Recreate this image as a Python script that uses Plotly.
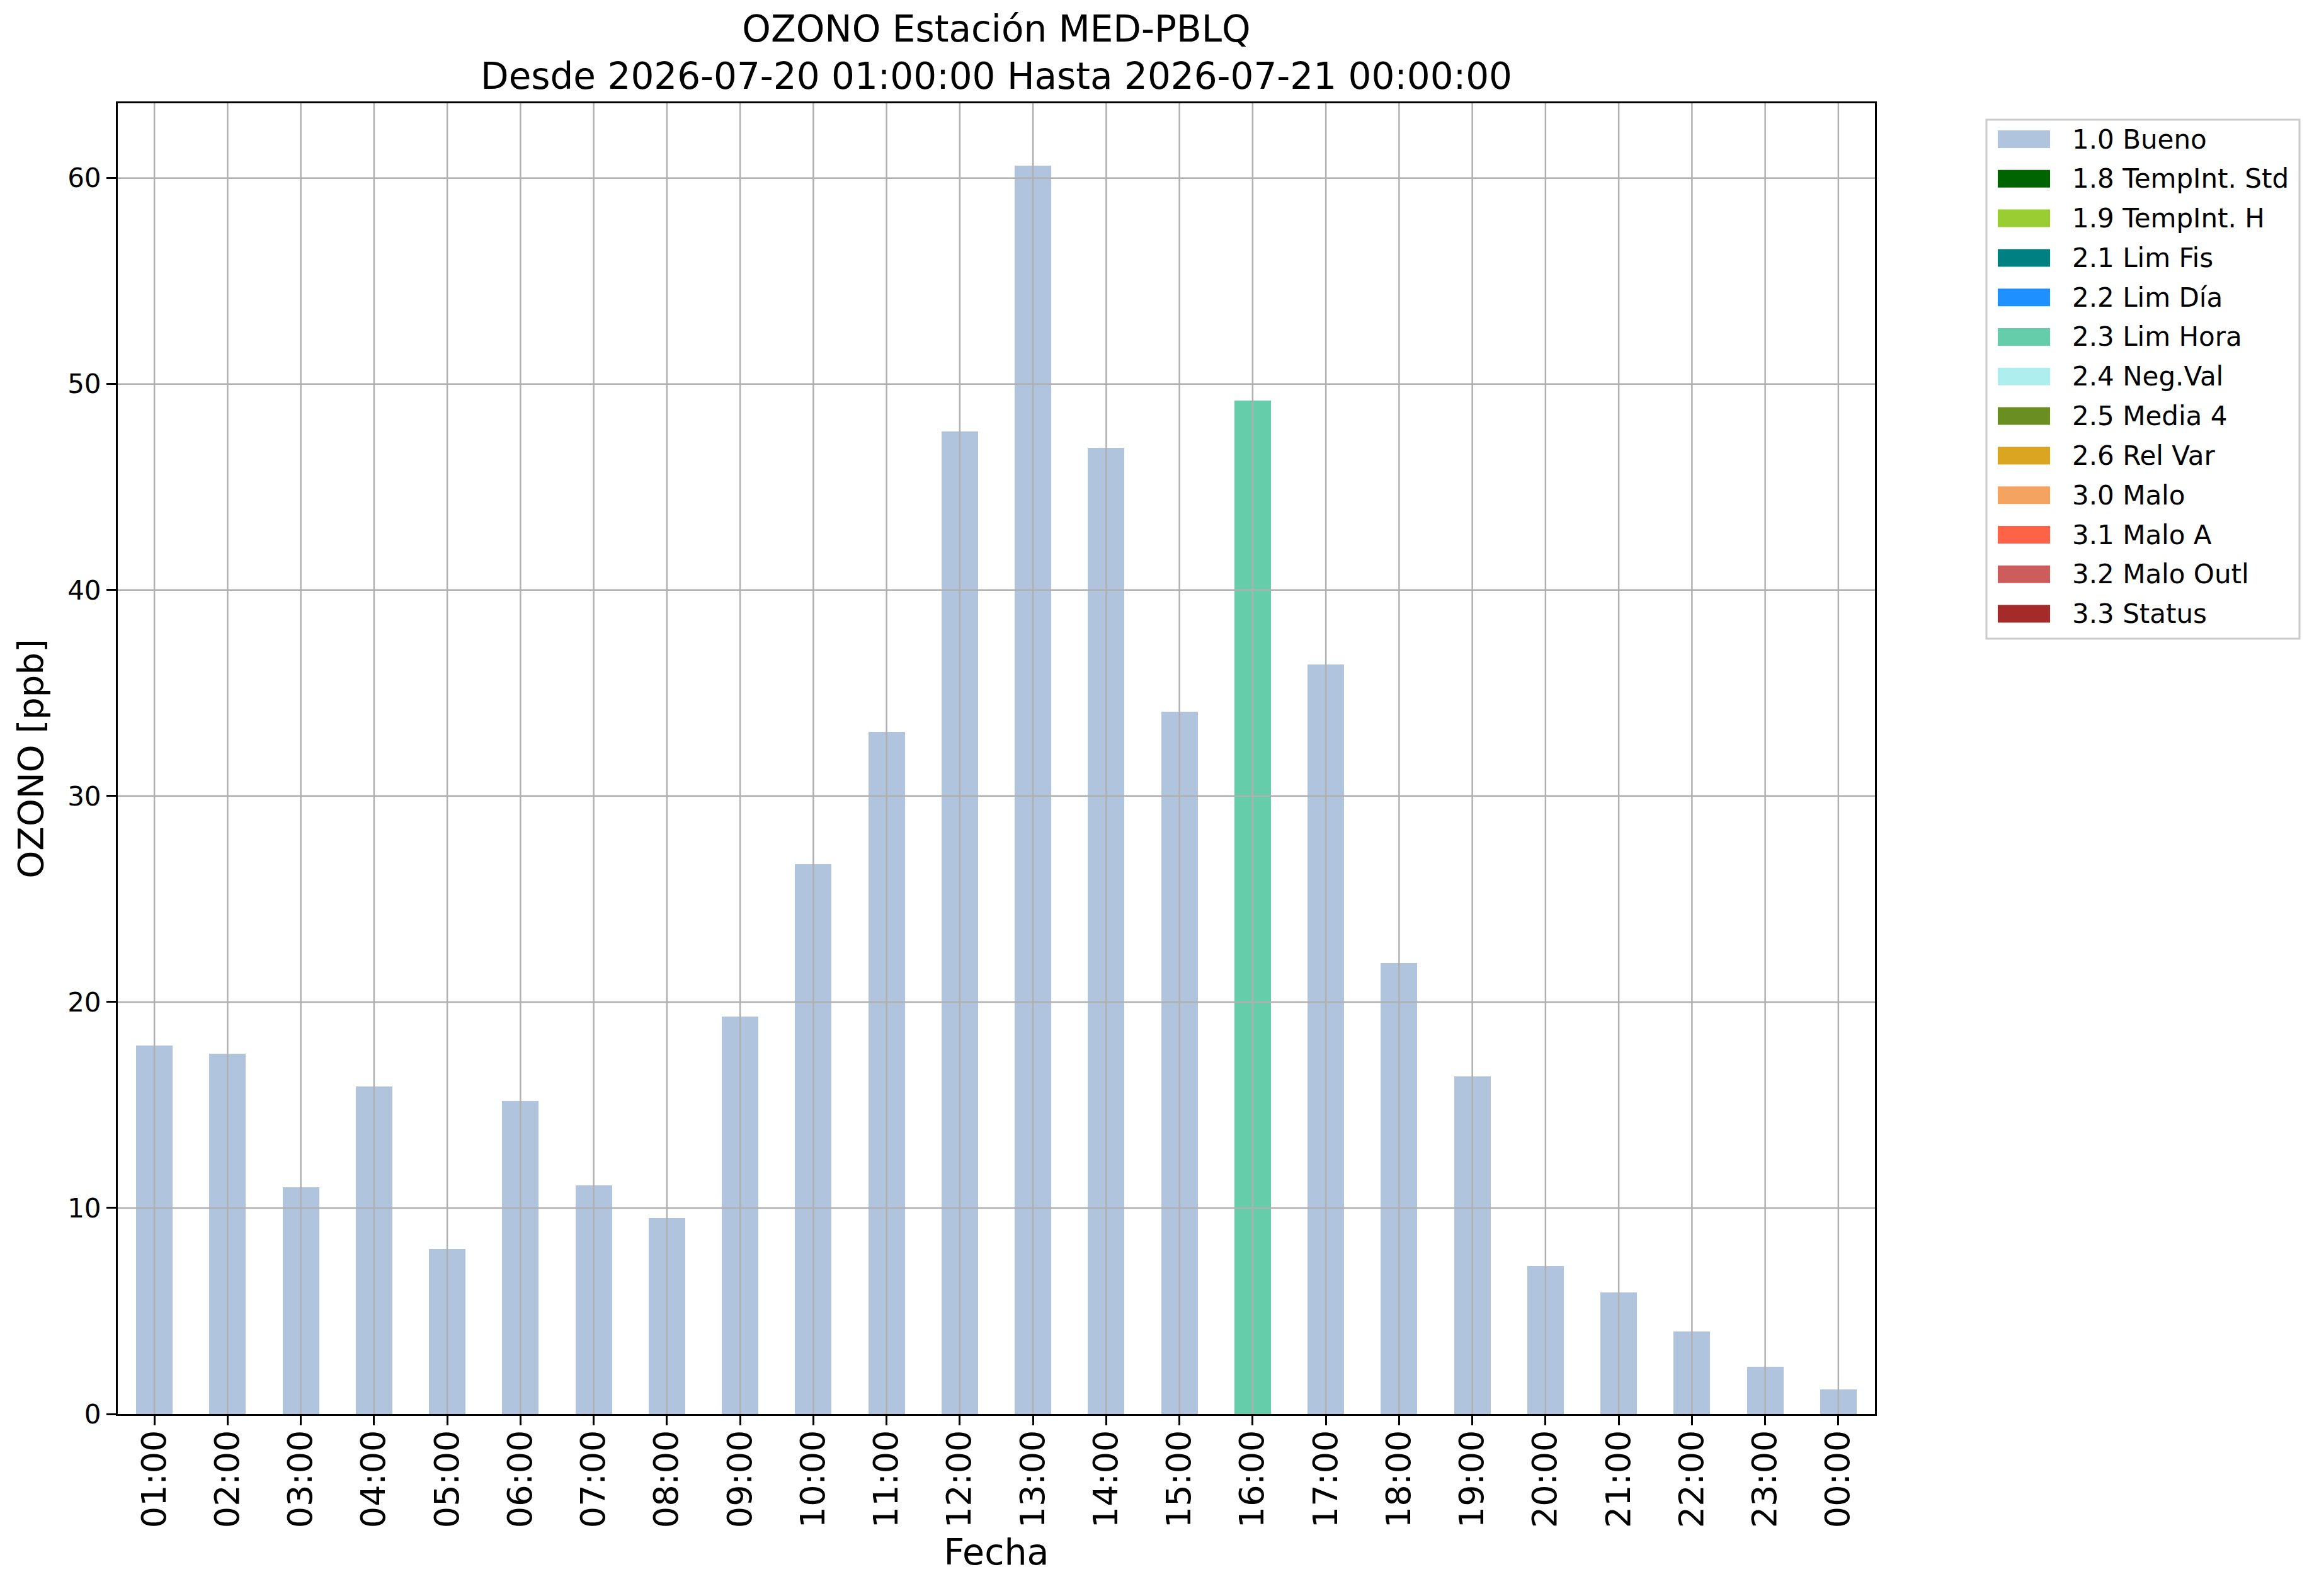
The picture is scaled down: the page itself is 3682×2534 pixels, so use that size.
import plotly.graph_objects as go

# hourly ozone, MED-PBLQ station
hours = ["01:00", "02:00", "03:00", "04:00", "05:00", "06:00", "07:00", "08:00",
         "09:00", "10:00", "11:00", "12:00", "13:00", "14:00", "15:00", "16:00",
         "17:00", "18:00", "19:00", "20:00", "21:00", "22:00", "23:00", "00:00"]
ozono = [17.9, 17.5, 11.0, 15.9, 8.0, 15.2, 11.1, 9.5,
         19.3, 26.7, 33.1, 47.7, 60.6, 46.9, 34.1, 49.2,
         36.4, 21.9, 16.4, 7.2, 5.9, 4.0, 2.3, 1.2]
flag = [1.0, 1.0, 1.0, 1.0, 1.0, 1.0, 1.0, 1.0,
        1.0, 1.0, 1.0, 1.0, 1.0, 1.0, 1.0, 2.3,
        1.0, 1.0, 1.0, 1.0, 1.0, 1.0, 1.0, 1.0]

flag_codes = [1.0, 1.8, 1.9, 2.1, 2.2, 2.3, 2.4, 2.5, 2.6, 3.0, 3.1, 3.2, 3.3]
flag_labels = ["1.0 Bueno", "1.8 TempInt. Std", "1.9 TempInt. H", "2.1 Lim Fis",
               "2.2 Lim Día", "2.3 Lim Hora", "2.4 Neg.Val", "2.5 Media 4",
               "2.6 Rel Var", "3.0 Malo", "3.1 Malo A", "3.2 Malo Outl", "3.3 Status"]
y_ticks = [0, 10, 20, 30, 40, 50, 60]

colores = ["#B0C4DE", "#006400", "#9ACD32", "#008080", "#1E90FF", "#66CDAA", "#AFEEEE",
           "#6B8E23", "#DAA520", "#F4A460", "#FF6347", "#CD5C5C", "#A52A2A"]

# page size and plot area, in page pixels
W, H = 3682, 2534
L, R, T, B = 187, 705, 164, 289
PAD = 8  # default body margin of the html page
FONT = "DejaVu Sans"


def paper_x(px):
    return (px - L) / (W - L - R)


def paper_y(py):
    return (H - B - py) / (H - T - B)


fig = go.Figure()

for code, label, color in zip(flag_codes, flag_labels, colores):
    fig.add_trace(go.Bar(
        x=hours,
        y=[v if f == code else None for v, f in zip(ozono, flag)],
        name=label,
        marker=dict(color=color, line=dict(width=0)),
        width=0.5,
        showlegend=False,
    ))

# grid on top of the bars, like matplotlib does it here
shapes = []
for h in hours:
    shapes.append(dict(type="line", xref="x", yref="y domain", x0=h, x1=h, y0=0, y1=1,
                       line=dict(color="#b0b0b0", width=2.5), layer="above"))
for t in y_ticks[1:]:
    shapes.append(dict(type="line", xref="x domain", yref="y", x0=0, x1=1, y0=t, y1=t,
                       line=dict(color="#b0b0b0", width=2.5), layer="above"))

# legend box drawn by hand (wide patches)
shapes.append(dict(type="rect", xref="paper", yref="paper",
                   x0=paper_x(3154), x1=paper_x(3651), y0=paper_y(1014), y1=paper_y(190),
                   line=dict(color="#cccccc", width=3), fillcolor="white", layer="above"))
annotations = []
row0, step = 221, 62.8
for i, (label, color) in enumerate(zip(flag_labels, colores)):
    yc = row0 + i * step
    shapes.append(dict(type="rect", xref="paper", yref="paper",
                       x0=paper_x(3172), x1=paper_x(3255),
                       y0=paper_y(yc + 14), y1=paper_y(yc - 14),
                       line=dict(width=0), fillcolor=color, layer="above"))
    annotations.append(dict(xref="paper", yref="paper", x=paper_x(3288), y=paper_y(yc),
                            text=label, showarrow=False, xanchor="left", yanchor="middle",
                            font=dict(family=FONT, size=42, color="black")))

fig.update_layout(
    width=W - 2 * PAD, height=H - 2 * PAD,
    margin=dict(l=L - PAD, r=R - PAD, t=T - PAD, b=B - PAD),
    paper_bgcolor="white", plot_bgcolor="white",
    barmode="stack",
    font=dict(family=FONT, color="black"),
    title=dict(text="OZONO Estación MED-PBLQ<br>Desde 2026-07-20 01:00:00 Hasta 2026-07-21 00:00:00",
               x=(L + (W - L - R) / 2 - PAD) / (W - 2 * PAD), xanchor="center",
               y=1 - 58 / (H - 2 * PAD), yanchor="top",
               font=dict(family=FONT, size=58, color="black")),
    shapes=shapes,
    annotations=annotations,
)

fig.update_xaxes(
    type="category", range=[-0.5, len(hours) - 0.5],
    showgrid=False, showline=True, linecolor="black", linewidth=3, mirror=True,
    ticks="outside", ticklen=15, tickwidth=3, tickcolor="black",
    tickangle=-90, tickfont=dict(family=FONT, size=54), ticklabelstandoff=-14,
    title=dict(text="Fecha", font=dict(family=FONT, size=57), standoff=19),
)
fig.update_yaxes(
    range=[0, max(ozono) * 1.05], tickvals=y_ticks,
    showgrid=False, zeroline=False, showline=True, linecolor="black", linewidth=3, mirror=True,
    ticks="outside", ticklen=15, tickwidth=3, tickcolor="black",
    tickfont=dict(family=FONT, size=42),
    title=dict(text="OZONO [ppb]", font=dict(family=FONT, size=56), standoff=21),
)

fig.write_html("out.html")
